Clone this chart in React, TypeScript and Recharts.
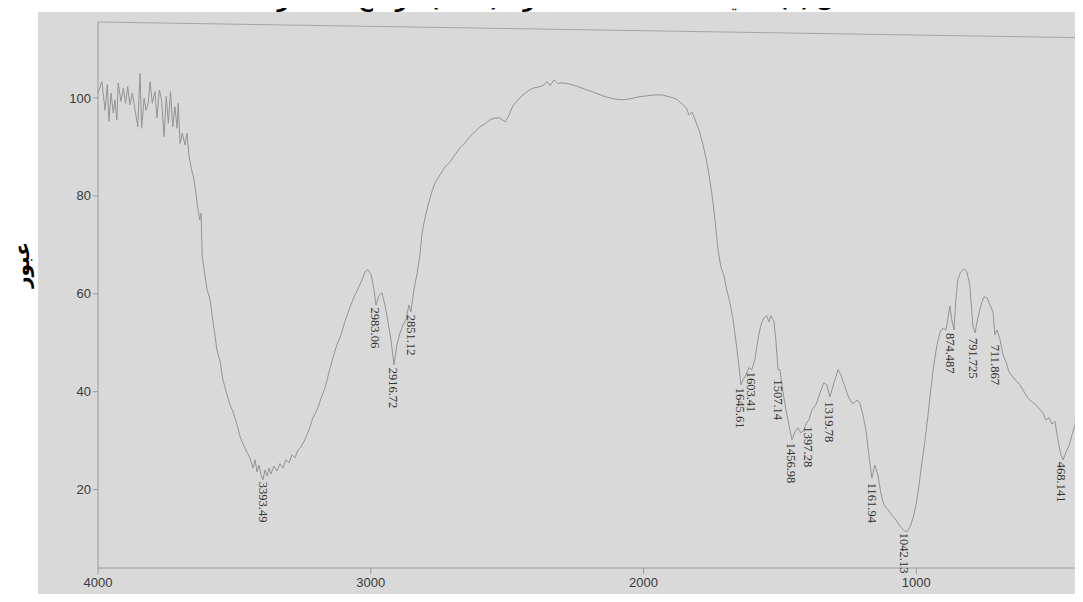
import React from "react";
import { ComposedChart, Line, Scatter, XAxis, YAxis, ReferenceLine } from "recharts";

// IR spectrum (cm-1 vs % transmittance)
const wavenumber = [
  4000, 3986, 3980, 3974, 3966, 3960, 3952, 3944, 3938, 3931, 3926, 3916, 3907, 3899, 3891, 3883,
  3874, 3864, 3854, 3846, 3840, 3831, 3824, 3816, 3809, 3801, 3791, 3784, 3775, 3767, 3758, 3750,
  3742, 3734, 3726, 3718, 3710, 3706, 3699, 3691, 3681, 3674, 3666, 3657, 3649, 3641, 3635, 3627,
  3622, 3618, 3600, 3589, 3582, 3571, 3564, 3553, 3542, 3527, 3516, 3505, 3490, 3479, 3468, 3454,
  3443, 3432, 3424, 3417, 3410, 3402, 3395, 3388, 3380, 3373, 3366, 3355, 3344, 3333, 3322, 3311,
  3300, 3289, 3278, 3267, 3256, 3245, 3234, 3223, 3212, 3197, 3182, 3168, 3153, 3138, 3124, 3109,
  3095, 3076, 3058, 3040, 3021, 3010, 2999, 2988, 2981, 2970, 2959, 2948, 2937, 2926, 2915, 2904,
  2893, 2882, 2871, 2860, 2853, 2842, 2831, 2820, 2812, 2801, 2790, 2776, 2765, 2746, 2728, 2710,
  2691, 2673, 2655, 2636, 2618, 2600, 2581, 2563, 2545, 2526, 2508, 2493, 2479, 2460, 2442, 2424,
  2405, 2387, 2369, 2354, 2343, 2328, 2314, 2299, 2277, 2251, 2226, 2196, 2167, 2138, 2108, 2079,
  2050, 2020, 1991, 1962, 1932, 1903, 1881, 1863, 1844, 1833, 1822, 1811, 1797, 1782, 1771, 1760,
  1749, 1738, 1727, 1716, 1706, 1695, 1684, 1673, 1662, 1651, 1643, 1636, 1625, 1614, 1603, 1592,
  1581, 1570, 1559, 1548, 1541, 1533, 1522, 1515, 1507, 1500, 1489, 1478, 1467, 1456, 1445, 1434,
  1423, 1412, 1401, 1394, 1383, 1368, 1353, 1339, 1328, 1317, 1302, 1287, 1276, 1262, 1247, 1232,
  1218, 1207, 1196, 1185, 1174, 1163, 1152, 1141, 1130, 1119, 1104, 1089, 1075, 1060, 1045, 1034,
  1023, 1012, 1001, 990, 979, 968, 957, 947, 936, 924, 913, 902, 891, 884, 877, 870,
  862, 855, 848, 837, 826, 815, 804, 793, 785, 774, 763, 752, 741, 730, 719, 712,
  704, 693, 682, 671, 660, 649, 634, 620, 605, 591, 576, 561, 547, 536, 525, 514,
  503, 492, 481, 470, 462, 451, 440, 429, 418, 407, 400,
];

const transmittance = [
  101, 103.3, 100.3, 97.5, 102.7, 95.2, 101, 96.9, 99.6, 95.5, 103, 99.3, 102, 98.9, 102.3, 98.6,
  101, 97.5, 94.1, 105, 93.8, 99.9, 97.5, 98.9, 103.3, 98.9, 101.3, 95.9, 101.6, 99.6, 92.1, 100.3,
  94.8, 101.3, 94.1, 98.2, 93.8, 98.9, 90.7, 92.8, 90.4, 92.8, 88, 85.3, 83.6, 80.5, 77.8, 75.1,
  76.5, 67.6, 60.8, 58.8, 55.7, 51.4, 48.5, 46.3, 42.4, 39.4, 37.3, 35.9, 33.2, 30.8, 29.3, 27.7,
  26.5, 24.4, 26.1, 23.6, 25, 23, 22, 24, 22.8, 24.4, 23.2, 24.8, 23.8, 25.3, 24.4, 26.1,
  25.5, 27.1, 26.5, 28.1, 28.7, 29.8, 31.2, 32.8, 34.7, 36.3, 38.7, 40.8, 44, 47.1, 49.6, 51.6,
  54.3, 57.3, 59.8, 61.8, 64.5, 64.9, 63.9, 60.8, 57.7, 59.6, 60.2, 57.7, 54.3, 50.6, 45.5, 49.6,
  52, 53.6, 54.7, 57.7, 56.3, 60.8, 63.9, 67.9, 72.4, 75.5, 78.1, 80.8, 82.6, 84.3, 85.9, 86.9,
  88.4, 89.8, 90.8, 92.2, 93.1, 94.1, 94.7, 95.5, 95.9, 95.9, 95.1, 96.5, 98.4, 99.6, 100.6, 101.4,
  102, 102.2, 102.5, 103.3, 102.5, 103.7, 102.9, 103.1, 102.9, 102.5, 102, 101.4, 100.8, 100.2, 99.8, 99.6,
  99.8, 100.2, 100.4, 100.6, 100.6, 100.2, 99.8, 99, 98, 96.5, 97.1, 95.5, 93.5, 90.4, 87.7, 84.3,
  80.2, 75.1, 69, 65.3, 63.9, 60.8, 58.3, 55.1, 50.6, 45.5, 41.4, 42.4, 43.4, 44.9, 44.5, 46.5,
  50.6, 53.6, 55.1, 55.5, 54.3, 55.5, 54.3, 50.6, 44.5, 44.5, 40, 36.3, 33.2, 30.2, 31.8, 32.6,
  31.6, 32.2, 33.8, 34.2, 36.3, 37.3, 39.8, 41.8, 41.4, 38.9, 41.8, 44.5, 43.4, 41, 38.7, 37.5,
  38.3, 37.7, 35.3, 32.2, 27.1, 22.4, 25, 23, 19.3, 16.9, 15.9, 14.8, 13.8, 12.6, 11.6, 11.4,
  12.4, 14.2, 16.9, 21, 25.7, 30.2, 35.3, 40.4, 45.5, 49.6, 52.2, 53, 52.6, 55.1, 57.5, 54.7,
  52.6, 58.8, 62.9, 64.5, 65.1, 64.5, 61.8, 53.6, 52, 55.1, 57.7, 59.4, 59.2, 57.7, 56.3, 51.6,
  52.6, 50.6, 47.5, 46.1, 44, 43.2, 42.2, 41.4, 40, 38.7, 37.9, 37.3, 36.3, 35.7, 34.2, 34.7,
  33.4, 34, 30.2, 27.1, 26.1, 27.7, 29.1, 31.2, 33.2, 37.3, 39.8,
];

// labelled peaks: position, transmittance where the label hangs, text
const peakWn = [3393.49, 2983.06, 2916.72, 2851.12, 1645.61, 1603.41, 1507.14, 1456.98, 1397.28, 1319.78, 1161.94, 1042.13, 874.487, 791.725, 711.867, 468.141];
const peakT = [22, 57.6, 45.3, 56.1, 41.2, 44.5, 42.9, 30, 33.3, 38.4, 21.8, 11.6, 52.4, 51.4, 50, 26.1];
const peakText = ["3393.49", "2983.06", "2916.72", "2851.12", "1645.61", "1603.41", "1507.14", "1456.98", "1397.28", "1319.78", "1161.94", "1042.13", "874.487", "791.725", "711.867", "468.141"];

const xTicks = [4000, 3000, 2000, 1000];
const yTicks = [20, 40, 60, 80, 100];

const spectrum = wavenumber.map((wn, i) => ({ wn, t: transmittance[i] }));
const peaks = peakWn.map((wn, i) => ({ wn, t: peakT[i], label: peakText[i] }));

const PeakLabel = (props: any) => {
  const { cx, cy, payload } = props;
  if (cx == null || cy == null) return null;
  return (
    <text
      x={cx + 2}
      y={cy}
      dy="0.35em"
      transform={`rotate(90 ${cx} ${cy})`}
      fontFamily="'Liberation Serif', serif"
      fontSize={12.5}
      fill="#333"
      textAnchor="start"
    >
      {payload.label}
    </text>
  );
};

const axisColor = "#9a9a9a";
const tickStyle = { fontFamily: "'Liberation Sans', Arial, sans-serif", fontSize: 13, fill: "#3a3a3a" };

export default function App() {
  return (
    <div style={{ position: "relative", width: 1083, height: 602, margin: -8, background: "#fff", overflow: "hidden" }}>
      {/* title is cut off by the scan, only its bottom edge shows */}
      <div
        style={{
          position: "absolute",
          left: 30,
          top: -15,
          width: 1083,
          textAlign: "center",
          direction: "rtl",
          fontFamily: "'DejaVu Sans', sans-serif",
          fontWeight: "bold",
          fontSize: 20,
          color: "#000",
          lineHeight: "30px",
        }}
      >
        شكل (٣) : طيف الأشعة تحت الحمراء (FTIR) للراتنج المحضر
      </div>
      <div style={{ position: "absolute", left: 38, top: 12, width: 1045, height: 590, background: "#d9d9d9" }} />
      <div
        style={{
          position: "absolute",
          left: 22,
          top: 265,
          transform: "translate(-50%, -50%) rotate(-90deg)",
          fontFamily: "'DejaVu Sans', sans-serif",
          fontWeight: "bold",
          fontSize: 20,
          color: "#000",
          whiteSpace: "nowrap",
        }}
      >
        عبور
      </div>
      <div style={{ position: "absolute", left: 0, top: 0 }}>
        <ComposedChart width={1083} height={602} data={spectrum} margin={{ top: 22, right: 3, bottom: 0, left: 38 }}>
          <XAxis
            dataKey="wn"
            type="number"
            domain={[400, 4000]}
            reversed
            ticks={xTicks}
            height={34}
            stroke={axisColor}
            tickSize={6}
            tickMargin={4}
            tick={tickStyle}
          />
          <YAxis
            type="number"
            domain={[4, 115.5]}
            ticks={yTicks}
            width={60}
            stroke={axisColor}
            tickSize={5}
            tickMargin={2}
            tick={tickStyle}
          />
          <ReferenceLine
            segment={[{ x: 4000, y: 115.5 }, { x: 400, y: 112.3 }]}
            stroke="#a5a5a5"
            ifOverflow="visible"
          />
          <ReferenceLine x={400} stroke="#b0b0b0" ifOverflow="visible" />
          <Line
            type="linear"
            dataKey="t"
            stroke="#949494"
            strokeWidth={1}
            dot={false}
            isAnimationActive={false}
          />
          <Scatter data={peaks} dataKey="t" shape={PeakLabel} isAnimationActive={false} />
        </ComposedChart>
      </div>
    </div>
  );
}
